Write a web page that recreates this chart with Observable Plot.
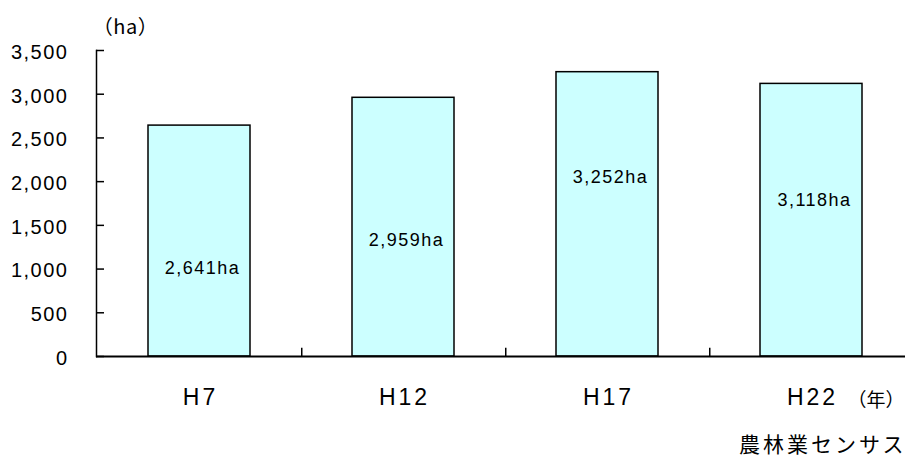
<!DOCTYPE html>
<html>
<head>
<meta charset="utf-8">
<script src="https://cdn.jsdelivr.net/npm/d3@7"></script>
<script src="https://cdn.jsdelivr.net/npm/@observablehq/plot@0.6"></script>
<style>
  html, body { margin: 0; padding: 0; background: #fff; }
  svg { display: block; }
  g[aria-label="y-axis tick label"] text { letter-spacing: 1.5px; }
  g[aria-label="x-axis tick label"] text { letter-spacing: 3px; }
</style>
</head>
<body>
<div id="chart"></div>
<script>
const categories = ["H7", "H12", "H17", "H22"];
const values = [2641, 2959, 3252, 3118];
const valueLabels = ["2,641ha", "2,959ha", "3,252ha", "3,118ha"];
const labelAt = [1005, 1327, 2047, 1784];
const yTicks = [0, 500, 1000, 1500, 2000, 2500, 3000, 3500];
const yUnit = "（ha）";
const xUnit = "（年）";
const source = "農林業センサス";

const data = categories.map((c, i) => ({cat: c, value: values[i], label: valueLabels[i], at: labelAt[i]}));
const fmt = d3.format(",");
const cjk = "'Noto Sans CJK JP', 'Noto Sans', sans-serif";

const chart = Plot.plot({
  width: 905,
  height: 456,
  marginLeft: 96,
  marginRight: 0,
  marginTop: 50,
  marginBottom: 100,
  style: {fontFamily: "'Liberation Sans', Arial, sans-serif", background: "#fff", color: "#000"},
  x: {domain: categories, range: [96, 914], paddingInner: 0.5, paddingOuter: 0.25, label: null},
  y: {domain: [0, 3500], label: null},
  marks: [
    Plot.barY(data, {x: "cat", y: "value", fill: "#ccffff", stroke: "#000", strokeWidth: 1.5}),
    Plot.text(data, {x: "cat", y: "at", text: "label", fontSize: 18, fill: "#000", dx: 3}),
    Plot.frame({anchor: "left", stroke: "#000", strokeWidth: 1.5}),
    Plot.ruleY([0], {stroke: "#000", strokeWidth: 2}),
    Plot.axisY(yTicks, {anchor: "left", tickSize: 8, text: null, dx: 8, stroke: "#000", strokeWidth: 1.5}),
    Plot.axisY(yTicks, {anchor: "left", tickSize: 0, tickPadding: 28, tickFormat: fmt, fontSize: 20, fill: "#000", dy: 2}),
    Plot.ruleX(categories.slice(0, 3), {x: d => d, y1: 0, y2: 95, dx: 102.25, stroke: "#000", strokeWidth: 1.5}),
    Plot.axisX({anchor: "bottom", tickSize: 0, tickPadding: 32, fontSize: 23, fill: "#000", dx: 1}),
    Plot.text([yUnit], {frameAnchor: "top-left", dx: 29, dy: -31, text: d => d, fontSize: 20, fill: "#000", fontFamily: cjk, textAnchor: "middle"}),
    Plot.text([xUnit], {frameAnchor: "bottom-right", dx: -1, dy: 50, text: d => d, fontSize: 19, fill: "#000", fontFamily: cjk, textAnchor: "end"}),
    Plot.text([source], {frameAnchor: "bottom-right", dx: 1, dy: 95, text: d => d, fontSize: 21, fill: "#000", fontFamily: cjk, textAnchor: "end"})
  ]
});
const textGroups = chart.querySelectorAll('g[aria-label="text"]');
const spacings = ["1.5px", "0.5px", "0px", "3px"];
textGroups.forEach((g, i) => g.querySelectorAll("text").forEach(t => t.style.letterSpacing = spacings[i] || "0px"));
document.getElementById("chart").append(chart);
</script>
</body>
</html>
